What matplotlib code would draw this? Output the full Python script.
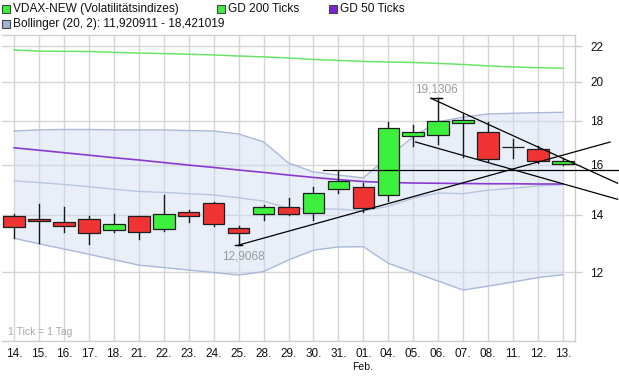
import matplotlib
matplotlib.use("Agg")
import matplotlib.pyplot as plt
from matplotlib.patches import Rectangle
from matplotlib.ticker import NullLocator, FixedLocator, FixedFormatter

plt.rcParams['font.family'] = ['Liberation Sans', 'DejaVu Sans']

# ---------------- data ----------------
dates = ["14.", "15.", "16.", "17.", "18.", "21.", "22.", "23.", "24.", "25.", "28.", "29.",
         "30.", "31.", "01.", "04.", "05.", "06.", "07.", "08.", "11.", "12.", "13."]
opens  = [13.95, 13.85, 13.74, 13.85, 13.42, 13.94, 13.46, 14.09, 14.43, 13.51, 14.01, 14.31,
          14.05, 14.98, 15.09, 14.76, 17.27, 17.32, 17.91, 17.49, 16.77, 16.70, 16.05]
highs  = [14.04, 14.39, 14.30, 13.95, 14.04, 13.95, 14.76, 14.17, 14.47, 13.59, 14.37, 14.66,
          15.09, 15.74, 15.23, 17.96, 17.80, 19.1306, 18.32, 17.96, 17.13, 16.83, 16.28]
lows   = [13.16, 12.96, 13.35, 12.93, 13.35, 13.13, 13.40, 13.74, 13.58, 12.9068, 13.82, 13.98,
          13.80, 14.82, 14.11, 14.53, 16.83, 16.92, 16.33, 16.16, 16.28, 16.09, 15.99]
closes = [13.54, 13.76, 13.59, 13.34, 13.64, 13.37, 14.04, 13.96, 13.66, 13.34, 14.29, 14.01,
          14.82, 15.33, 14.26, 17.65, 17.46, 17.98, 18.04, 16.24, 16.77, 16.16, 16.18]

gd200 = [21.77, 21.70, 21.69, 21.68, 21.63, 21.59, 21.56, 21.52, 21.48, 21.42, 21.37, 21.31,
         21.22, 21.17, 21.11, 21.08, 21.05, 21.00, 20.94, 20.86, 20.80, 20.76, 20.73]
gd50 = [16.75, 16.64, 16.53, 16.42, 16.31, 16.21, 16.10, 15.99, 15.89, 15.78, 15.68, 15.57,
        15.47, 15.38, 15.30, 15.26, 15.24, 15.23, 15.22, 15.21, 15.21, 15.20, 15.20]
boll_upper = [17.52, 17.57, 17.59, 17.59, 17.57, 17.57, 17.57, 17.54, 17.52, 17.38, 17.02, 16.08,
              15.70, 15.57, 15.45, 16.35, 17.25, 17.96, 18.18, 18.34, 18.37, 18.40, 18.421019]
boll_lower = [13.14, 12.95, 12.77, 12.59, 12.41, 12.23, 12.15, 12.07, 11.99, 11.91, 12.02, 12.40,
              12.73, 12.84, 12.85, 12.29, 12.00, 11.72, 11.44, 11.56, 11.69, 11.83, 11.920911]
boll_mid = [15.33, 15.26, 15.18, 15.09, 14.99, 14.90, 14.86, 14.81, 14.76, 14.65, 14.52, 14.24,
            14.22, 14.21, 14.15, 14.32, 14.63, 14.84, 14.81, 14.95, 15.03, 15.12, 15.17]

yticks = [12, 14, 16, 18, 20, 22]

# trend lines (index, value) endpoints
trend_up_x, trend_up_y = [9, 23.9], [12.9068, 17.01]
trend_dn_x, trend_dn_y = [16.7, 24.2], [19.1306, 15.23]
trend_dn2_x, trend_dn2_y = [16.1, 24.2], [17.01, 14.59]
hline_x, hline_y = [12.4, 24.2], [15.78, 15.78]

# ---------------- figure ----------------
W, H = 619, 379
fig = plt.figure(figsize=(W / 100, H / 100), dpi=100)
L, R, T, B = 2, 575, 35, 341
ax = fig.add_axes([L / W, 1 - B / H, (R - L) / W, (B - T) / H])
ax.set_yscale('log')
ax.set_xlim(-0.49, 22.49)
ax.set_ylim(9.98, 22.66)

n = len(dates)
xs = list(range(n))

grid_c = '#d6d6d6'
for x in xs:
    ax.axvline(x, color=grid_c, lw=1, zorder=0)
for y in yticks:
    ax.axhline(y, color=grid_c, lw=1, zorder=0)

# bollinger band
ax.fill_between(xs, boll_lower, boll_upper, color='#cddcf3', alpha=0.45, lw=0, zorder=1)
ax.plot(xs, boll_upper, color='#aab9d9', lw=1, zorder=2)
ax.plot(xs, boll_lower, color='#aab9d9', lw=1, zorder=2)
ax.plot(xs, boll_mid, color='#b8c6e2', lw=1, zorder=2)

# moving averages
ax.plot(xs, gd200, color='#6ae46a', lw=1.1, zorder=3)
ax.plot(xs, gd50, color='#8a3ad0', lw=1.2, zorder=3)

# candles
bw = 0.86
for i in xs:
    o, h, l, c = opens[i], highs[i], lows[i], closes[i]
    ax.plot([i, i], [l, h], color='#1a1a1a', lw=1, zorder=4)
    if c > o:
        fc = '#3ef03e'
    elif c < o:
        fc = '#f03434'
    else:
        fc = '#1a1a1a'
    lo, hi = min(o, c), max(o, c)
    ax.add_patch(Rectangle((i - bw / 2, lo), bw, hi - lo, facecolor=fc,
                           edgecolor='#1e1e1e', lw=0.9, zorder=5))

# trend lines
for tx, ty in [(trend_up_x, trend_up_y), (trend_dn_x, trend_dn_y),
               (trend_dn2_x, trend_dn2_y), (hline_x, hline_y)]:
    ax.plot(tx, ty, color='black', lw=0.9, zorder=6, clip_on=False)
ax.plot([8.85, 9.15], [lows[9], lows[9]], color='black', lw=1, zorder=6)
ax.plot([16.7, 17.15], [highs[17], highs[17]], color='black', lw=1, zorder=6)

ax.text(9.2, 12.52, "12,9068", color='#9a9a9a', fontsize=8.5, ha='center', va='center', zorder=7)
ax.text(16.95, 19.58, "19,1306", color='#9a9a9a', fontsize=8.5, ha='center', va='center', zorder=7)
ax.text(-0.24, 0.012, "1 Tick = 1 Tag", color='#a8a8a8', fontsize=7.5,
        transform=ax.get_xaxis_transform(), ha='left', va='bottom')

# axes styling
ax.spines['left'].set_visible(False)
for s in ['top', 'right', 'bottom']:
    ax.spines[s].set_color('#cfcfcf')
    ax.spines[s].set_linewidth(1)
ax.yaxis.tick_right()
ax.yaxis.set_major_locator(FixedLocator(yticks))
ax.yaxis.set_major_formatter(FixedFormatter([str(v) for v in yticks]))
ax.yaxis.set_minor_locator(NullLocator())
ax.tick_params(axis='y', direction='out', length=5, width=1, color='#cfcfcf',
               labelsize=8.5, pad=6, labelcolor='#111111')
ax.set_xticks(xs)
ax.set_xticklabels(dates)
ax.tick_params(axis='x', length=0, labelsize=8.5, pad=5, labelcolor='#111111')


def fx(x): return x / W
def fy(y): return 1 - y / H


fig.text(fx(363), fy(367), "Feb.", ha='center', va='center', fontsize=7.5, color='#111111')


def legend_item(x, y, color, label):
    fig.patches.append(Rectangle((fx(x), fy(y + 4)), 8 / W, 8 / H, facecolor=color,
                                 edgecolor='#444444', lw=0.8, transform=fig.transFigure))
    fig.text(fx(x + 11), fy(y), label, fontsize=8.6, va='center', ha='left', color='#111111')


legend_item(2, 9, '#3ef03e', "VDAX-NEW (Volatilitätsindizes)")
legend_item(217, 9, '#3ef03e', "GD 200 Ticks")
legend_item(329, 9, '#7a22d8', "GD 50 Ticks")
legend_item(2, 24, '#9fb3d6', "Bollinger (20, 2): 11,920911 - 18,421019")

fig.savefig("out.png", dpi=100)
